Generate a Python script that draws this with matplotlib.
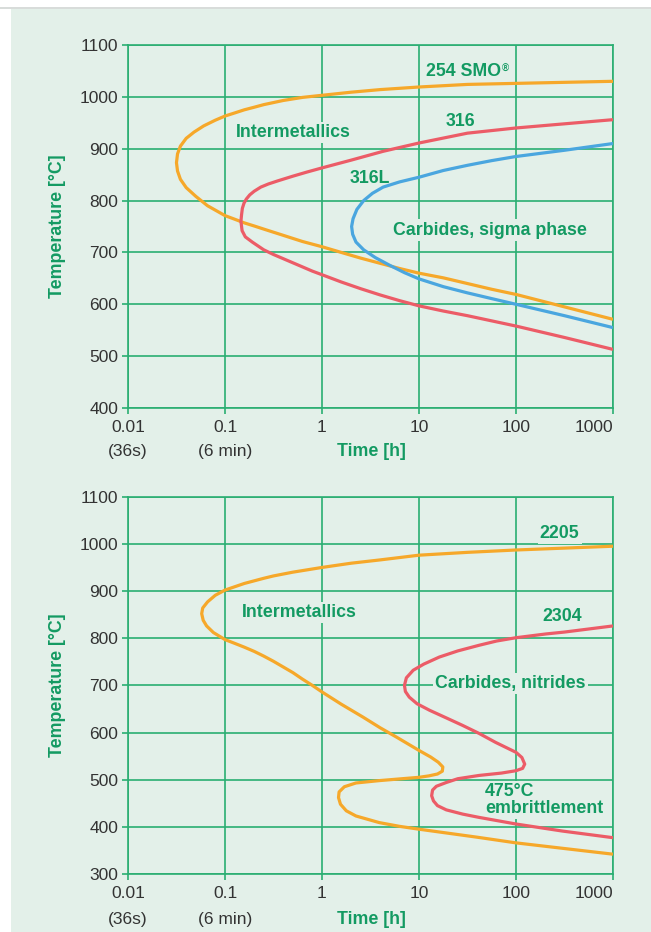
import matplotlib.pyplot as plt
from matplotlib.patches import Rectangle

plt.rcParams['font.family'] = ['Liberation Sans', 'DejaVu Sans']

BG = '#e3f0e9'
GRID = '#2aae72'
TXT = '#139a62'
TICK = '#333333'
ORANGE = '#f6a82a'
RED = '#ec5c67'
BLUE = '#4aa6df'

# --- top chart: 254 SMO, 316, 316L (time in h, temperature in C) ---
smo_t = [1000, 316, 100, 31.6, 10, 3.98, 2.0, 1, 0.631, 0.501, 0.398, 0.316,
         0.251, 0.2, 0.158, 0.126, 0.1, 0.0794, 0.0603, 0.0479, 0.0398,
         0.0347, 0.0324, 0.0316, 0.0324, 0.0347, 0.0398, 0.0501, 0.0661, 0.1,
         0.126, 0.158, 0.2, 0.251, 0.316, 0.398, 0.501, 0.631, 1, 1.58, 2.51,
         3.98, 6.31, 10, 17.8, 31.6, 56, 100, 316, 1000]
smo_T = [1030, 1028, 1026, 1024, 1019, 1014, 1009, 1003, 999, 996, 993, 989,
         985, 980, 975, 969, 963, 955, 944, 932, 920,
         905, 890, 873, 857, 841, 825, 808, 790, 771,
         764, 757, 751, 745, 739, 733, 727, 721, 711, 700, 689,
         679, 669, 660, 651, 640, 629, 619, 595, 571]

s316_t = [1000, 316, 100, 31.6, 10, 4.27, 2.0, 1, 0.7, 0.5, 0.35, 0.28, 0.234,
          0.2, 0.18, 0.166, 0.157, 0.151, 0.148, 0.146, 0.150, 0.162, 0.191,
          0.251, 0.316, 0.398, 0.501, 0.631, 0.794, 1, 1.58, 2.51, 3.98, 6.31,
          10, 17.8, 31.6, 100, 316, 1000]
s316_T = [956, 948, 940, 930, 911, 895, 878, 863, 855, 847, 838, 832, 826,
          818, 811, 803, 795, 785, 772, 760, 742, 730, 720,
          705, 696, 688, 680, 672, 664, 657, 643, 630, 618, 607,
          597, 587, 578, 558, 536, 513]

s316l_t = [1000, 316, 100, 56, 31.6, 17.8, 10, 6.31, 4.27, 3.31, 2.69, 2.29,
           2.09, 2.02, 2.07, 2.24, 2.69, 3.55, 5.01, 7.08, 10, 17.8, 31.6, 56,
           100, 316, 1000]
s316l_T = [910, 897, 885, 877, 868, 858, 845, 836, 826, 814, 800, 783,
           765, 750, 735, 720, 705, 690, 675, 661, 649, 634, 622, 611,
           600, 578, 555]

# --- bottom chart: 2205, 2304 ---
d2205_t = [1000, 316, 100, 31.6, 10, 3.98, 2.0, 1, 0.501, 0.316, 0.251, 0.158,
           0.1, 0.0794, 0.0661, 0.0589, 0.0575, 0.0596, 0.0646, 0.0759, 0.1,
           0.126, 0.158, 0.2, 0.251, 0.316, 0.398, 0.501, 0.631, 0.794, 1,
           1.58, 2.63, 3.98, 5.89, 10, 13.2, 15.8, 17.6, 17.4, 15.5, 12.6, 10,
           3.89, 2.24, 1.70, 1.50, 1.48, 1.55, 1.78, 2.24, 3.89, 6.31, 10, 39.8,
           100, 316, 1000]
d2205_T = [995, 991, 987, 982, 976, 966, 959, 950, 940, 932, 927, 916,
           902, 891, 877, 864, 852, 838, 826, 812, 797,
           789, 781, 772, 762, 751, 739, 727, 713, 700, 686,
           660, 633, 610, 590, 562, 548, 537, 527, 518, 512, 508, 505,
           498, 493, 485, 474, 462, 448, 434, 423, 409, 401, 395, 378,
           366, 354, 342]

d2304_t = [1000, 316, 204, 100, 63.1, 41.7, 25.1, 16.2, 11.2, 8.71, 7.41, 7.08,
           7.24, 7.94, 9.55, 12.9, 19.1, 28.2, 41.7, 61.7, 83.2, 100, 115, 123,
           117, 100, 70.8, 41.7, 25.1, 19.1, 15.1, 13.8, 13.5, 14.1, 15.5, 19.1,
           28.2, 41.7, 100, 302, 1000]
d2304_T = [826, 813, 809, 801, 794, 785, 773, 760, 745, 732, 716, 700,
           687, 675, 661, 647, 631, 615, 598, 579, 566, 558, 547, 533,
           524, 519, 514, 509, 502, 494, 486, 478, 466, 455, 445, 436,
           427, 420, 406, 391, 377]

x_ticks = [0.01, 0.1, 1, 10, 100, 1000]
x_labels = ['0.01', '0.1', '1', '10', '100', '1000']

fig = plt.figure(figsize=(6.51, 9.32), dpi=100)
fig.patch.set_facecolor('white')
fig.patches.append(Rectangle((11 / 651, 0), 1, 1 - 9 / 932, transform=fig.transFigure,
                             facecolor=BG, edgecolor='none', zorder=-10))
fig.patches.append(Rectangle((0, 1 - 9 / 932), 1, 1.5 / 932, transform=fig.transFigure,
                             facecolor='#d8dcda', edgecolor='none', zorder=-10))

ax1 = fig.add_axes([128 / 651, 1 - 408 / 932, 485 / 651, 363 / 932])
ax2 = fig.add_axes([128 / 651, 1 - 874 / 932, 485 / 651, 377.3 / 932])


def style(ax, ymin):
    ax.set_facecolor('none')
    ax.set_xscale('log')
    ax.set_xlim(0.01, 1000)
    ax.set_ylim(ymin, 1100)
    ax.set_xticks(x_ticks)
    ax.set_xticklabels(x_labels)
    ax.minorticks_off()
    ax.set_yticks(range(ymin, 1101, 100))
    ax.grid(True, color=GRID, lw=1.2, zorder=0)
    for s in ax.spines.values():
        s.set_color(GRID)
        s.set_linewidth(1.2)
    ax.tick_params(colors=GRID, labelcolor=TICK, labelsize=12.5, length=4, width=1.2)
    ax.tick_params(axis='x', pad=5)
    ax.tick_params(axis='y', pad=3)
    ax.get_xticklabels()[-1].set_ha('right')
    ax.text(-0.146, 0.5, 'Temperature [°C]', transform=ax.transAxes, rotation=90,
            ha='center', va='center', color=TXT, fontsize=12.8, fontweight='bold')
    ax.text(0.0, -0.12, '(36s)', transform=ax.transAxes, ha='center', va='center',
            color=TICK, fontsize=12.5)
    ax.text(0.2, -0.12, '(6 min)', transform=ax.transAxes, ha='center', va='center',
            color=TICK, fontsize=12.5)
    ax.text(3.2, -0.12, 'Time [h]', transform=ax.get_xaxis_transform(), ha='center',
            va='center', color=TXT, fontsize=12.8, fontweight='bold')


def label(ax, x, y, s, ha='center', ls=1.2):
    return ax.text(x, y, s, ha=ha, va='center', color=TXT, fontsize=12.8,
                   fontweight='bold', linespacing=ls, zorder=3,
                   bbox=dict(boxstyle='square,pad=0.12', fc=BG, ec='none'))


def curve(ax, t, T, c):
    ax.plot(t, T, color=c, lw=2.3, zorder=4, solid_joinstyle='round',
            solid_capstyle='butt')


style(ax1, 400)
curve(ax1, smo_t, smo_T, ORANGE)
curve(ax1, s316_t, s316_T, RED)
curve(ax1, s316l_t, s316l_T, BLUE)
smo = label(ax1, 29, 1048, '254 SMO')
ax1.annotate('®', xy=(1, 1), xycoords=smo, xytext=(0.5, 0), textcoords='offset points',
             ha='left', va='top', color=TXT, fontsize=7, fontweight='bold')
label(ax1, 0.51, 931, 'Intermetallics')
label(ax1, 27, 953, '316')
label(ax1, 3.1, 842, '316L')
label(ax1, 54, 743, 'Carbides, sigma phase')

style(ax2, 300)
curve(ax2, d2205_t, d2205_T, ORANGE)
curve(ax2, d2304_t, d2304_T, RED)
label(ax2, 282, 1022, '2205')
label(ax2, 0.59, 854, 'Intermetallics')
label(ax2, 302, 846, '2304')
label(ax2, 87, 704, 'Carbides, nitrides')
label(ax2, 48, 457, '475°C\nembrittlement', ha='left', ls=0.95)

fig.savefig('out.png', dpi=100, facecolor=fig.get_facecolor())
